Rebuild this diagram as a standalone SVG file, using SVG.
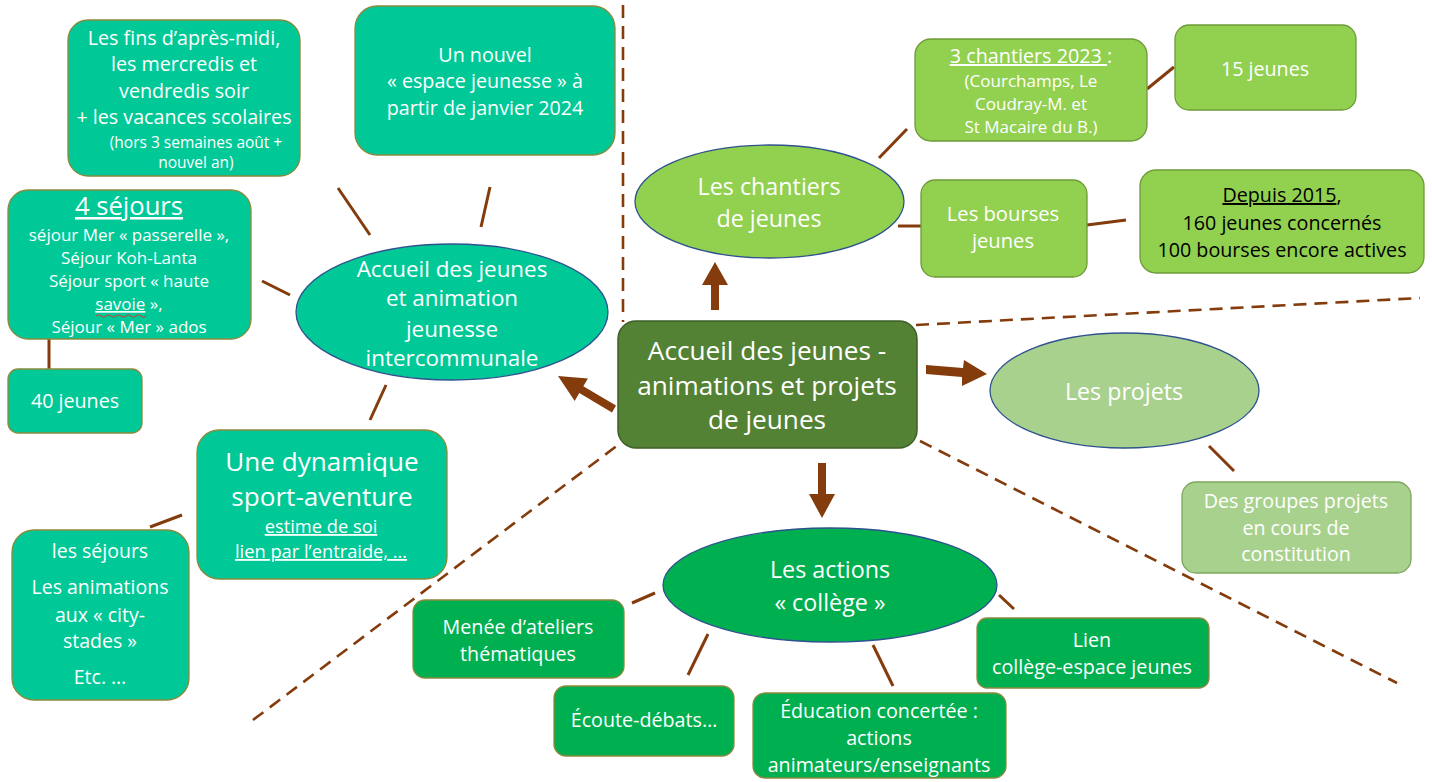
<svg xmlns="http://www.w3.org/2000/svg" width="1432" height="782" viewBox="0 0 1432 782">
<defs>
<style>
text{font-family:"Open Sans",Lato,sans-serif;fill:#fff;text-anchor:middle}
.teal{fill:#00C997;stroke:#8A8A3C;stroke-width:1.3}
.lg{fill:#92D050;stroke:#6E9A3A;stroke-width:1.3}
.pg{fill:#A9D18E;stroke:#7DA65F;stroke-width:1.3}
.mg{fill:#00B050;stroke:#8A8A3C;stroke-width:1.3}
.ell{stroke:#2F528F;stroke-width:1.3}
.ln{stroke:#843C0C;stroke-width:3;fill:none}
.dash{stroke:#843C0C;stroke-width:2.6;fill:none;stroke-dasharray:13 8}
.arr{fill:#843C0C}
.t20{font-size:19.7px}
</style>
</defs>
<rect width="1432" height="782" fill="#fff"/>
<g id="connectors">
<path class="dash" d="M623 5 L623 322"/>
<path class="dash" d="M253 720 L622 442"/>
<path class="dash" d="M916 325 L1420 298"/>
<path class="dash" d="M920 441 L1397 683"/>
<path class="ln" d="M338 188 L370 235"/>
<path class="ln" d="M490 187 L481 227"/>
<path class="ln" d="M262 281 L290 295"/>
<path class="ln" d="M386 385 L370 420"/>
<path class="ln" d="M49 339 L49 370"/>
<path class="ln" d="M150 527 L182 515"/>
<path class="ln" d="M879 158 L907 129"/>
<path class="ln" d="M898 226 L922 226"/>
<path class="ln" d="M1147 89 L1174 67"/>
<path class="ln" d="M1087 225 L1126 220"/>
<path class="ln" d="M1209 446 L1234 471"/>
<path class="ln" d="M655 593 L632 603"/>
<path class="ln" d="M708 634 L688 675"/>
<path class="ln" d="M873 645 L893 686"/>
<path class="ln" d="M999 595 L1014 609"/>
<polygon class="arr" points="711,310 719,310 719,285 728,285 715,262 702,285 711,285"/>
<polygon class="arr" points="818,463 826,463 826,494 835,494 822,518 809,494 818,494"/>
<polygon class="arr" points="926,365 963,368 964,360 987,374 962,386 962,377 926,374"/>
<polygon class="arr" points="616,405.6 583.3,386.3 587.9,378.5 558,376 574.7,400.9 579.3,393.1 612,412.4"/>
</g>
<g id="n-fins">
<rect class="teal" x="68" y="20" width="232" height="156" rx="20"/>
<text class="t20" x="184" y="45">Les fins d’après-midi,</text>
<text class="t20" x="184" y="71">les mercredis et</text>
<text class="t20" x="184" y="98">vendredis soir</text>
<text class="t20" x="184" y="124">+ les vacances scolaires</text>
<text x="196" y="148" style="font-size:15.5px">(hors 3 semaines août +</text>
<text x="196" y="168" style="font-size:15.5px">nouvel an)</text>
</g>
<g id="n-espace">
<rect class="teal" x="355" y="6" width="260" height="149" rx="22"/>
<text class="t20" x="485" y="62">Un nouvel</text>
<text class="t20" x="485" y="88">« espace jeunesse » à</text>
<text class="t20" x="485" y="115">partir de janvier 2024</text>
</g>
<g id="n-accueil">
<ellipse class="ell" cx="452" cy="312" rx="156" ry="68" fill="#00C997"/>
<text x="452" y="277" style="font-size:22.4px">Accueil des jeunes</text>
<text x="452" y="306" style="font-size:22.4px">et animation</text>
<text x="452" y="337" style="font-size:22.4px">jeunesse</text>
<text x="452" y="366" style="font-size:22.4px">intercommunale</text>
</g>
<g id="n-sejours">
<rect class="teal" x="8" y="190" width="243" height="149" rx="20"/>
<text x="129" y="215" style="font-size:25.6px;text-decoration:underline">4 séjours</text>
<text x="129" y="241" style="font-size:17px">séjour Mer « passerelle »,</text>
<text x="129" y="264" style="font-size:17px">Séjour Koh-Lanta</text>
<text x="129" y="287" style="font-size:17px">Séjour sport « haute</text>
<text x="129" y="310" style="font-size:17px"><tspan style="text-decoration:underline">savoie</tspan> »,</text>
<path d="M96 316 q2.5 -2.5 5 0 t5 0 t5 0 t5 0 t5 0 t5 0 t5 0 t5 0 t5 0 t5 0" stroke="#E03030" stroke-width="1" fill="none"/>
<text x="129" y="333" style="font-size:17px">Séjour « Mer » ados</text>
</g>
<g id="n-40">
<rect class="teal" x="8" y="369" width="134" height="64" rx="10"/>
<text class="t20" x="75" y="408">40 jeunes</text>
</g>
<g id="n-dynamique">
<rect class="teal" x="197" y="430" width="250" height="149" rx="22"/>
<text x="322" y="471" style="font-size:26.1px">Une dynamique</text>
<text x="322" y="506" style="font-size:26.1px">sport-aventure</text>
<text x="321" y="533" style="font-size:18.3px;text-decoration:underline">estime de soi </text>
<text x="321" y="558" style="font-size:18.3px;text-decoration:underline">lien par l’entraide, …</text>
</g>
<g id="n-seances">
<rect class="teal" x="12" y="530" width="177" height="170" rx="22"/>
<text x="100" y="558" style="font-size:19.5px">les séjours</text>
<text x="100" y="594" style="font-size:19.5px">Les animations</text>
<text x="100" y="622" style="font-size:19.5px">aux « city-</text>
<text x="100" y="648" style="font-size:19.5px">stades »</text>
<text x="100" y="684" style="font-size:19.5px">Etc. …</text>
</g>
<g id="n-centre">
<rect x="618" y="321" width="299" height="127" rx="18" fill="#548235" stroke="#3D5F26" stroke-width="1.5"/>
<text x="767" y="360" style="font-size:26.2px">Accueil des jeunes -</text>
<text x="767" y="395" style="font-size:26.2px">animations et projets</text>
<text x="767" y="429" style="font-size:26.2px">de jeunes</text>
</g>
<g id="n-chantiers">
<ellipse class="ell" cx="769.5" cy="201.5" rx="134.5" ry="56.5" fill="#92D050"/>
<text x="769" y="195" style="font-size:23.3px">Les chantiers</text>
<text x="769" y="227" style="font-size:23.3px">de jeunes</text>
</g>
<g id="n-3chantiers">
<rect class="lg" x="915" y="39" width="232" height="102" rx="16"/>
<text x="1031" y="63" style="font-size:19.8px"><tspan style="text-decoration:underline">3 chantiers 2023 </tspan>:</text>
<text x="1031" y="87" style="font-size:17px">(Courchamps, Le</text>
<text x="1031" y="110" style="font-size:17px">Coudray-M. et</text>
<text x="1031" y="133" style="font-size:17px">St Macaire du B.)</text>
</g>
<g id="n-15">
<rect class="lg" x="1175" y="25" width="181" height="85" rx="14"/>
<text class="t20" x="1265" y="76">15 jeunes</text>
</g>
<g id="n-bourses">
<rect class="lg" x="921" y="180" width="166" height="97" rx="14"/>
<text x="1003" y="221" style="font-size:20.2px">Les bourses</text>
<text x="1003" y="248" style="font-size:20.2px">jeunes</text>
</g>
<g id="n-depuis">
<rect class="lg" x="1140" y="170" width="284" height="103" rx="16"/>
<text class="t20" x="1282" y="202" style="fill:#000"><tspan style="text-decoration:underline">Depuis 2015</tspan>,</text>
<text class="t20" x="1282" y="230" style="fill:#000">160 jeunes concernés</text>
<text class="t20" x="1282" y="257" style="fill:#000">100 bourses encore actives</text>
</g>
<g id="n-projets">
<ellipse class="ell" cx="1124.5" cy="390.5" rx="134.5" ry="57.5" fill="#A9D18E"/>
<text x="1124" y="400" style="font-size:23.2px">Les projets</text>
</g>
<g id="n-groupes">
<rect class="pg" x="1182" y="482" width="229" height="91" rx="14"/>
<text class="t20" x="1296" y="508">Des groupes projets</text>
<text class="t20" x="1296" y="535">en cours de</text>
<text class="t20" x="1296" y="561">constitution</text>
</g>
<g id="n-college">
<ellipse class="ell" cx="830" cy="585" rx="167" ry="57" fill="#00B050"/>
<text x="830" y="578" style="font-size:23.3px">Les actions</text>
<text x="830" y="611" style="font-size:23.3px">« collège »</text>
</g>
<g id="n-menee">
<rect class="mg" x="413" y="600" width="211" height="78" rx="12"/>
<text class="t20" x="518" y="634">Menée d’ateliers</text>
<text class="t20" x="518" y="661">thématiques</text>
</g>
<g id="n-ecoute">
<rect class="mg" x="554" y="686" width="180" height="70" rx="12"/>
<text class="t20" x="644" y="727">Écoute-débats…</text>
</g>
<g id="n-education">
<rect class="mg" x="753" y="693" width="253" height="85" rx="12"/>
<text class="t20" x="879" y="718">Éducation concertée :</text>
<text class="t20" x="879" y="745">actions</text>
<text class="t20" x="879" y="772">animateurs/enseignants</text>
</g>
<g id="n-lien">
<rect class="mg" x="977" y="618" width="232" height="70" rx="10"/>
<text class="t20" x="1092" y="647">Lien</text>
<text class="t20" x="1092" y="674">collège-espace jeunes</text>
</g>
</svg>
